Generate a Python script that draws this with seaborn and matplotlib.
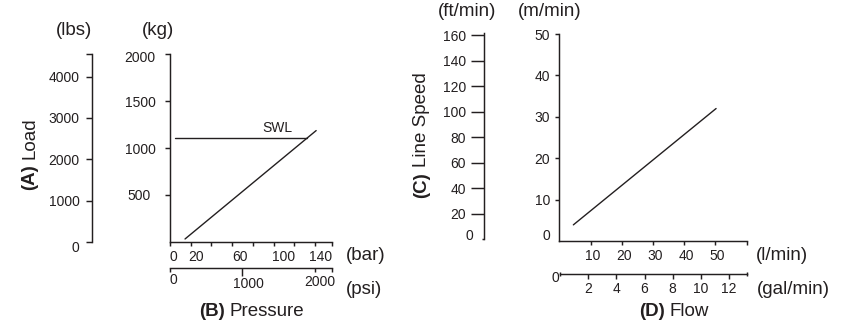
import matplotlib
matplotlib.use("Agg")
import matplotlib.pyplot as plt
from matplotlib.text import Annotation
from matplotlib.transforms import ScaledTranslation
import seaborn as sns

# (B) pressure vs load: working line and safe working load (SWL)
load_bar = [14.5, 141]
load_kg = [29, 1184]
swl_bar = [4.8, 132]
swl_kg = [1105, 1105]

# (D) flow vs line speed
flow_lpm = [4.5, 50.2]
speed_mpm = [3.9, 32]

# scales
lbs_ticks = [0, 1000, 2000, 3000, 4000, 4545]
lbs_labels = ['0', '1000', '2000', '3000', '4000', '']
kg_ticks = [500, 1000, 1500, 2000]
bar_ticks = [0, 20, 40, 60, 80, 100, 120, 140, 156]
bar_labels = ['0', '20', '', '60', '', '100', '', '140', '']
psi_major = [1000]
psi_minor = [0, 2000, 2237]
psi_minor_labels = ['0', '2000', '']
ft_ticks = [20, 40, 60, 80, 100, 120, 140, 160]
m_ticks = [10, 20, 30, 40, 50]
lpm_ticks = [10, 20, 30, 40, 50, 60]
lpm_labels = ['10', '20', '30', '40', '50', '']
gal_ticks = [2, 4, 6, 8, 10, 12]
gal_labels = ['2', '4', '6', '8', '10', '12']

bar_max, kg_max, lbs_max, psi_max = 156, 2000, 4545, 2237
lpm_max, m_max, ft_max, gal_max = 60, 50, 162, 13.25

W, H = 845, 323
ink = '#231f20'
spine_w = 1.05

sns.set_theme(style='ticks')
plt.rcParams['font.family'] = ['Liberation Sans', 'DejaVu Sans']
plt.rcParams['text.color'] = ink
plt.rcParams['xtick.color'] = ink
plt.rcParams['ytick.color'] = ink

fig = plt.figure(figsize=(W / 100, H / 100), dpi=100)
fig.patch.set_facecolor('white')


def add_ax(x0, y0, x1, y1, spines=()):
    # axes placed in pixel coords of the 845x323 picture
    ax = fig.add_axes([x0 / W, 1 - y1 / H, max(x1 - x0, 1) / W, max(y1 - y0, 1) / H])
    ax.set_facecolor('none')
    for name, s in ax.spines.items():
        s.set_visible(name in spines)
        s.set_color(ink)
        s.set_linewidth(spine_w)
    ax.set_xticks([])
    ax.set_yticks([])
    return ax


def nudge(labels, offsets):
    # shift tick labels by (dx, dy) pixels, dy downwards
    for lab, (dx, dy) in zip(labels, offsets):
        lab.set_transform(lab.get_transform() + ScaledTranslation(dx / 100, -dy / 100, fig.dpi_scale_trans))


def ftext(x, y, s, **kw):
    return fig.text(x / W, 1 - y / H, s, **kw)


def title(x, y, bold, rest, vertical=False):
    if vertical:
        t = ftext(x, y, bold, fontsize=13.5, fontweight='bold', rotation=90, ha='center', va='bottom')
        a = Annotation(rest, xy=(0.5, 1), xycoords=t, xytext=(0, 3.75), textcoords='offset points',
                       rotation=90, ha='center', va='bottom', fontsize=13.5, color=ink)
    else:
        t = ftext(x, y, bold, fontsize=13.5, fontweight='bold', ha='left', va='center')
        a = Annotation(rest, xy=(1, 0), xycoords=t, xytext=(3.75, 0), textcoords='offset points',
                       ha='left', va='bottom', fontsize=13.5, color=ink)
    fig.add_artist(a)


# ---- left chart ----
ax_b = add_ax(170, 54, 331.7, 241.7, spines=('left', 'bottom'))
sns.lineplot(x=load_bar, y=load_kg, ax=ax_b, color=ink, linewidth=1.0)
sns.lineplot(x=swl_bar, y=swl_kg, ax=ax_b, color=ink, linewidth=1.0)
ax_b.set_xlim(0, bar_max)
ax_b.set_ylim(0, kg_max)
ax_b.set_xticks(bar_ticks, bar_labels)
ax_b.set_yticks(kg_ticks)
ax_b.set_xlabel('')
ax_b.set_ylabel('')
ax_b.tick_params(axis='x', direction='out', length=3, width=spine_w, pad=3, labelsize=10)
ax_b.tick_params(axis='y', direction='out', length=3.3, width=spine_w, pad=7, labelsize=10)
nudge(ax_b.get_xticklabels(), [(3, 0), (5, 0), (0, 0), (8, 0), (0, 0), (10, 0), (0, 0), (5, 0), (0, 0)])
nudge(ax_b.get_yticklabels(), [(-5, 0), (0, 1), (0, 1), (0, 2.5)])
ftext(277, 127.7, 'SWL', fontsize=10, ha='center', va='center')

ax_lbs = add_ax(92.3, 54, 93.3, 242, spines=('left',))
ax_lbs.set_ylim(0, lbs_max)
ax_lbs.set_yticks(lbs_ticks, lbs_labels)
ax_lbs.tick_params(axis='y', direction='out', length=4.3, width=spine_w, pad=5, labelsize=10)
nudge(ax_lbs.get_yticklabels(), [(0, 4)])

ax_psi = add_ax(170, 266.7, 331.7, 267.7, spines=('bottom',))
ax_psi.set_xlim(0, psi_max)
ax_psi.set_xticks(psi_major, ['1000'])
ax_psi.set_xticks(psi_minor, psi_minor_labels, minor=True)
ax_psi.tick_params(axis='x', which='major', direction='out', length=5.5, width=spine_w, pad=0.5, labelsize=10)
ax_psi.tick_params(axis='x', which='minor', direction='out', length=3, width=spine_w, pad=0.5, labelsize=10)
nudge(ax_psi.get_xticklabels(), [(6, 1.4)])
nudge(ax_psi.get_xticklabels(minor=True), [(3, 0), (5, 2.1)])

ftext(74, 30.7, '(lbs)', fontsize=13.5, ha='center', va='center')
ftext(158, 30.7, '(kg)', fontsize=13.5, ha='center', va='center')
ftext(365.5, 255, '(bar)', fontsize=13.5, ha='center', va='center')
ftext(364, 290, '(psi)', fontsize=13.5, ha='center', va='center')
title(30, 190, '(A)', 'Load', vertical=True)
title(199, 311.7, '(B)', 'Pressure')

# ---- right chart ----
ax_d = add_ax(559.3, 34, 746.7, 241, spines=('left', 'bottom'))
sns.lineplot(x=flow_lpm, y=speed_mpm, ax=ax_d, color=ink, linewidth=1.0)
ax_d.set_xlim(0, lpm_max)
ax_d.set_ylim(0, m_max)
ax_d.set_xticks(lpm_ticks, lpm_labels)
ax_d.set_yticks(m_ticks)
ax_d.set_yticks([0], ['0'], minor=True)
ax_d.set_xlabel('')
ax_d.set_ylabel('')
ax_d.tick_params(axis='x', direction='out', length=2.9, width=spine_w, pad=3.2, labelsize=10)
ax_d.tick_params(axis='y', which='major', direction='out', length=2.9, width=spine_w, pad=3.6, labelsize=10)
ax_d.tick_params(axis='y', which='minor', length=0, pad=6.5, labelsize=10)
nudge(ax_d.get_xticklabels(), [(2, 0)] * 5)
nudge(ax_d.get_yticklabels(minor=True), [(0, -6)])

ax_ft = add_ax(484, 32.5, 485, 239, spines=('left',))
ax_ft.set_ylim(0, ft_max)
ax_ft.set_yticks(ft_ticks)
ax_ft.set_yticks([0], ['0'], minor=True)
ax_ft.tick_params(axis='y', which='major', direction='out', length=9.4, width=spine_w, pad=3.6, labelsize=10)
ax_ft.tick_params(axis='y', which='minor', direction='out', length=1.4, width=spine_w, pad=6, labelsize=10)
nudge(ax_ft.get_yticklabels(minor=True), [(0, -4)])

ax_gal = add_ax(560, 273, 746.7, 274, spines=('bottom',))
ax_gal.set_xlim(0, gal_max)
ax_gal.set_xticks(gal_ticks, gal_labels)
ax_gal.set_xticks([0, gal_max], ['0', ''], minor=True)
ax_gal.tick_params(axis='x', which='major', direction='out', length=3.6, width=spine_w, pad=2.5, labelsize=10)
ax_gal.tick_params(axis='x', which='minor', direction='inout', length=3, width=spine_w, pad=2.5, labelsize=10)
nudge(ax_gal.get_xticklabels(minor=True), [(-5, -8.9)])

ftext(467, 12, '(ft/min)', fontsize=13.5, ha='center', va='center')
ftext(550, 12, '(m/min)', fontsize=13.5, ha='center', va='center')
ftext(781.7, 255, '(l/min)', fontsize=13.5, ha='center', va='center')
ftext(793, 289, '(gal/min)', fontsize=13.5, ha='center', va='center')
title(421.7, 198.3, '(C)', 'Line Speed', vertical=True)
title(639, 311.7, '(D)', 'Flow')

fig.savefig('out.png', dpi=100)
